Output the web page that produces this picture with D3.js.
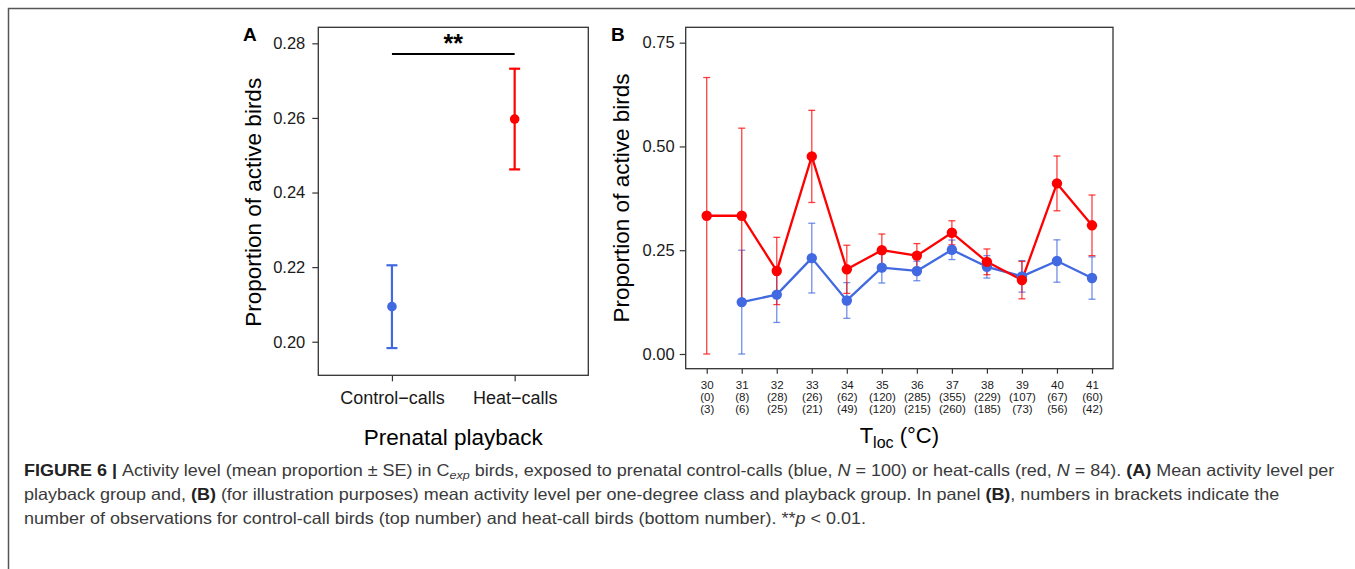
<!DOCTYPE html>
<html><head><meta charset="utf-8">
<script src="https://cdn.jsdelivr.net/npm/d3@7"></script>
<style>body{margin:0;background:#fff} svg{display:block}</style>
</head><body><svg id="c" width="1355" height="569"></svg>
<script>
// ---------- Data ----------
const groupsA = ["Control\u2212calls", "Heat\u2212calls"];
const meanA = [0.2094, 0.2597];
const lowA = [0.1983, 0.2462];
const highA = [0.2205, 0.2732];
const ticksA = [0.20, 0.22, 0.24, 0.26, 0.28];

const temps = [30, 31, 32, 33, 34, 35, 36, 37, 38, 39, 40, 41];
const nControl = ["(0)", "(8)", "(28)", "(26)", "(62)", "(120)", "(285)", "(355)", "(229)", "(107)", "(67)", "(60)"];
const nHeat = ["(3)", "(6)", "(25)", "(21)", "(49)", "(120)", "(215)", "(260)", "(185)", "(73)", "(56)", "(42)"];
const meanControl = [null, 0.125, 0.143, 0.231, 0.129, 0.208, 0.200, 0.251, 0.210, 0.187, 0.224, 0.183];
const seControl = [null, 0.125, 0.067, 0.084, 0.043, 0.037, 0.0235, 0.0235, 0.027, 0.038, 0.051, 0.051];
const meanHeat = [0.333, 0.333, 0.200, 0.476, 0.204, 0.250, 0.237, 0.292, 0.222, 0.178, 0.411, 0.310];
const seHeat = [0.333, 0.211, 0.081, 0.111, 0.058, 0.039, 0.029, 0.029, 0.031, 0.045, 0.066, 0.073];
const ticksB = [0.00, 0.25, 0.50, 0.75];

const BLUE = "#4169E1", RED = "#FF0000";
const FONT = "'Liberation Sans', Arial, Helvetica, sans-serif";

const svg = d3.select("#c");

// outer frame
svg.append("path").attr("d", "M8.5,569 V8.5 H1355")
  .attr("fill", "none").attr("stroke", "#555").attr("stroke-width", 1.5);

// ---------- Panel A ----------
const A = {l: 318.3, r: 588.3, t: 27.3, b: 375.3};
const xA = d3.scalePoint().domain(groupsA).range([A.l, A.r]).padding(0.6);
const yA = d3.scaleLinear().domain([0.191, 0.2843]).range([A.b, A.t]);

const gA = svg.append("g");
gA.append("rect").attr("x", A.l).attr("y", A.t).attr("width", A.r - A.l).attr("height", A.b - A.t)
  .attr("fill", "none").attr("stroke", "#333").attr("stroke-width", 1.3);

const axAy = gA.append("g").attr("transform", `translate(${A.l},0)`)
  .call(d3.axisLeft(yA).tickValues(ticksA).tickFormat(d3.format(".2f")).tickSize(6).tickPadding(7));
const axAx = gA.append("g").attr("transform", `translate(0,${A.b})`)
  .call(d3.axisBottom(xA).tickSize(6).tickPadding(10));
[axAy, axAx].forEach(ax => {
  ax.select(".domain").remove();
  ax.selectAll(".tick line").attr("stroke", "#333").attr("stroke-width", 1.2);
  ax.selectAll(".tick text").attr("fill", "#1a1a1a").style("font-family", FONT).style("font-size", "16.5px");
});
axAx.selectAll(".tick text").style("font-size", "18px");

// error bars A
const colA = [BLUE, RED];
groupsA.forEach((g, i) => {
  const x = xA(g), c = colA[i];
  const e = gA.append("g").attr("stroke", c).attr("stroke-width", 2.2);
  e.append("line").attr("x1", x).attr("x2", x).attr("y1", yA(lowA[i])).attr("y2", yA(highA[i]));
  e.append("line").attr("x1", x - 5.5).attr("x2", x + 5.5).attr("y1", yA(lowA[i])).attr("y2", yA(lowA[i]));
  e.append("line").attr("x1", x - 5.5).attr("x2", x + 5.5).attr("y1", yA(highA[i])).attr("y2", yA(highA[i]));
  gA.append("circle").attr("cx", x).attr("cy", yA(meanA[i])).attr("r", 4.8).attr("fill", c);
});

// significance bar
gA.append("line").attr("x1", xA(groupsA[0])).attr("x2", xA(groupsA[1])).attr("y1", 54).attr("y2", 54)
  .attr("stroke", "#000").attr("stroke-width", 2);
gA.append("text").attr("x", (xA(groupsA[0]) + xA(groupsA[1])) / 2).attr("y", 52)
  .attr("text-anchor", "middle").style("font-family", FONT).style("font-size", "25px").style("font-weight", "bold")
  .text("**");

gA.append("text").attr("x", 243).attr("y", 41).style("font-family", FONT).style("font-size", "19px")
  .style("font-weight", "bold").text("A");
gA.append("text").attr("transform", `translate(261,${(A.t + A.b) / 2 + 1}) rotate(-90)`)
  .attr("text-anchor", "middle").style("font-family", FONT).style("font-size", "22.5px")
  .text("Proportion of active birds");
gA.append("text").attr("x", (A.l + A.r) / 2).attr("y", 445)
  .attr("text-anchor", "middle").style("font-family", FONT).style("font-size", "22.5px")
  .text("Prenatal playback");

// ---------- Panel B ----------
const B = {l: 685.7, r: 1113, t: 27.3, b: 368.7};
const xB = d3.scalePoint().domain(temps).range([B.l, B.r]).padding(0.6);
const yB = d3.scaleLinear().domain([-0.0354, 0.787]).range([B.b, B.t]);

const gB = svg.append("g");
gB.append("rect").attr("x", B.l).attr("y", B.t).attr("width", B.r - B.l).attr("height", B.b - B.t)
  .attr("fill", "none").attr("stroke", "#333").attr("stroke-width", 1.3);

const axBy = gB.append("g").attr("transform", `translate(${B.l},0)`)
  .call(d3.axisLeft(yB).tickValues(ticksB).tickFormat(d3.format(".2f")).tickSize(6).tickPadding(5));
axBy.select(".domain").remove();
axBy.selectAll(".tick line").attr("stroke", "#333").attr("stroke-width", 1.2);
axBy.selectAll(".tick text").attr("fill", "#1a1a1a").style("font-family", FONT).style("font-size", "16.5px");

const axBx = gB.append("g").attr("transform", `translate(0,${B.b})`)
  .call(d3.axisBottom(xB).tickSize(5).tickFormat(""));
axBx.select(".domain").remove();
axBx.selectAll(".tick line").attr("stroke", "#333").attr("stroke-width", 1.2);
axBx.selectAll(".tick").each(function (d, i) {
  const t = d3.select(this).append("text").attr("fill", "#1a1a1a").attr("text-anchor", "middle")
    .style("font-family", FONT).style("font-size", "11.5px");
  [String(d), nControl[i], nHeat[i]].forEach((s, k) => {
    t.append("tspan").attr("x", 0).attr("y", 20.8 + k * 11.7).text(s);
  });
});

const series = [
  {mean: meanControl, se: seControl, col: BLUE},
  {mean: meanHeat, se: seHeat, col: RED}
];
// error bars
series.forEach(s => {
  const e = gB.append("g").attr("stroke", s.col).attr("stroke-width", 1.3).attr("stroke-opacity", 0.75);
  temps.forEach((t, i) => {
    if (s.mean[i] == null) return;
    const x = xB(t), lo = yB(Math.max(0, s.mean[i] - s.se[i])), hi = yB(s.mean[i] + s.se[i]);
    e.append("line").attr("x1", x).attr("x2", x).attr("y1", lo).attr("y2", hi);
    e.append("line").attr("x1", x - 3.5).attr("x2", x + 3.5).attr("y1", lo).attr("y2", lo);
    e.append("line").attr("x1", x - 3.5).attr("x2", x + 3.5).attr("y1", hi).attr("y2", hi);
  });
});
// lines
series.forEach(s => {
  const line = d3.line().defined((d, i) => s.mean[i] != null)
    .x((d, i) => xB(temps[i])).y((d, i) => yB(s.mean[i]));
  gB.append("path").datum(s.mean).attr("d", line).attr("fill", "none")
    .attr("stroke", s.col).attr("stroke-width", 2.3).attr("stroke-linejoin", "round");
});
// points
series.forEach(s => {
  temps.forEach((t, i) => {
    if (s.mean[i] == null) return;
    gB.append("circle").attr("cx", xB(t)).attr("cy", yB(s.mean[i])).attr("r", 5.2).attr("fill", s.col);
  });
});

gB.append("text").attr("x", 611).attr("y", 41).style("font-family", FONT).style("font-size", "19px")
  .style("font-weight", "bold").text("B");
gB.append("text").attr("transform", `translate(628.5,${198}) rotate(-90)`)
  .attr("text-anchor", "middle").style("font-family", FONT).style("font-size", "22.5px")
  .text("Proportion of active birds");
const tt = gB.append("text").attr("x", (B.l + B.r) / 2).attr("y", 443)
  .attr("text-anchor", "middle").style("font-family", FONT).style("font-size", "22px");
tt.append("tspan").text("T");
tt.append("tspan").attr("dy", 5).style("font-size", "16px").text("loc");
tt.append("tspan").attr("dy", -5).text(" (\u00B0C)");

// ---------- Caption ----------
const capLines = [
  [["b", "FIGURE 6 | "], ["n", "Activity level (mean proportion \u00B1 SE) in C"], ["sub", "exp"],
   ["n", " birds, exposed to prenatal control-calls (blue, "], ["i", "N"], ["n", " = 100) or heat-calls (red, "],
   ["i", "N"], ["n", " = 84). "], ["b", "(A)"], ["n", " Mean activity level per"]],
  [["n", "playback group and, "], ["b", "(B)"],
   ["n", " (for illustration purposes) mean activity level per one-degree class and playback group. In panel "],
   ["b", "(B)"], ["n", ", numbers in brackets indicate the"]],
  [["n", "number of observations for control-call birds (top number) and heat-call birds (bottom number). **"],
   ["i", "p"], ["n", " < 0.01."]]
];
const capY = [476.5, 500.5, 524.5];
const capG = svg.append("g");
const capTexts = capLines.map((ln, li) => {
  const t = capG.append("text").attr("x", 0).attr("y", capY[li]).attr("fill", "#3a3a3a")
    .style("font-family", FONT).style("font-size", "16.5px");
  let shifted = false;
  ln.forEach(([k, s]) => {
    const ts = t.append("tspan").text(s);
    if (k === "b") ts.style("font-weight", "bold").attr("fill", "#222");
    if (k === "i") ts.style("font-style", "italic");
    if (k === "sub") { ts.style("font-style", "italic").style("font-size", "11.5px").attr("dy", 3); shifted = true; }
    else if (shifted) { ts.attr("dy", -3); shifted = false; }
  });
  return t;
});
const w0 = capTexts[0].node().getComputedTextLength();
const sx = 1311 / w0;
capTexts.forEach(t => t.attr("transform", `translate(24,0) scale(${sx},1)`));
</script>
</body></html>
